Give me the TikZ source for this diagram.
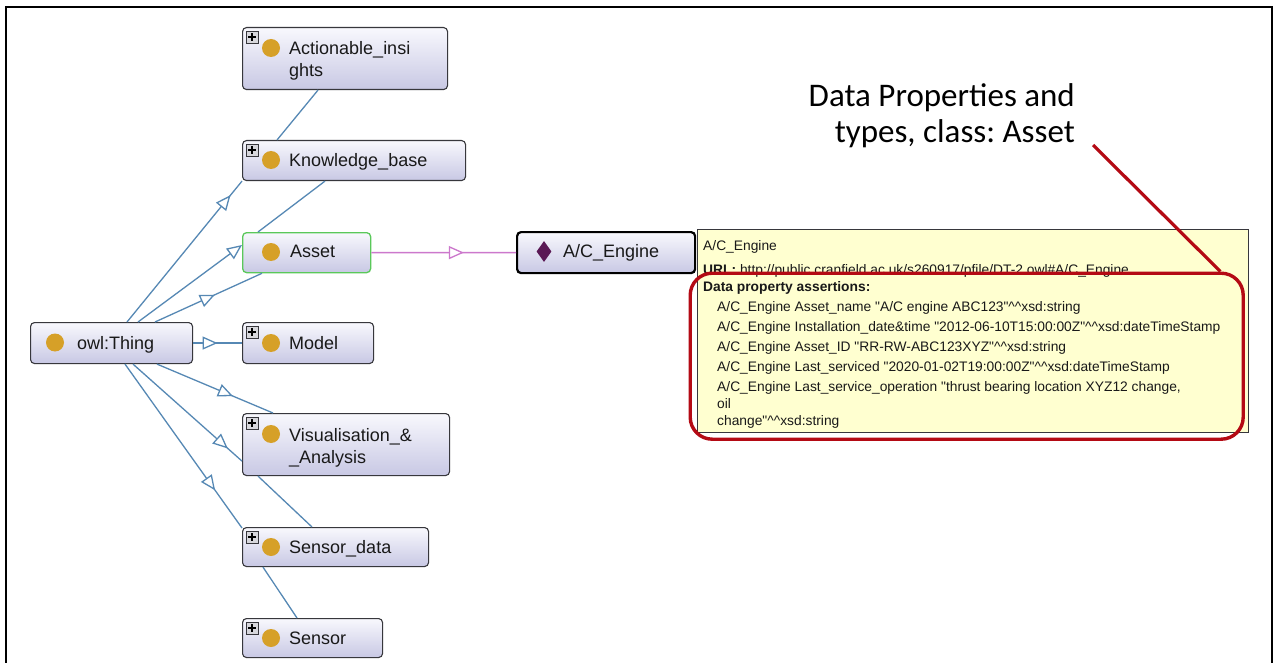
\documentclass[tikz,border=0pt]{standalone}
\usepackage{fontspec}
\setmainfont{Liberation Sans}
\newfontfamily\calib{Carlito}
\usetikzlibrary{arrows.meta,decorations.markings,calc,shapes.geometric}
\definecolor{edgeblue}{RGB}{86,136,180}
\definecolor{propline}{RGB}{204,120,204}
\definecolor{gold}{RGB}{214,160,40}
\definecolor{lavtop}{RGB}{248,248,253}
\definecolor{lavbot}{RGB}{200,200,228}
\definecolor{bordergrey}{RGB}{55,55,60}
\definecolor{assetgreen}{RGB}{90,200,90}
\definecolor{diam}{RGB}{90,25,85}
\definecolor{tipyellow}{RGB}{255,255,208}
\definecolor{hlred}{RGB}{180,10,20}
\definecolor{plusgrey}{RGB}{215,215,220}
\definecolor{textdark}{RGB}{25,25,25}
\newcommand\qq{\textquotedbl}
\newcommand\hh{\textasciicircum\textasciicircum}
\frenchspacing
\begin{document}
\begin{tikzpicture}[x=1pt,y=-1pt,
  cls/.style={draw=bordergrey, line width=1.1pt, rounded corners=4pt,
    top color=lavtop, bottom color=lavbot, inner sep=0pt, anchor=north west},
  lbl/.style={anchor=base west, inner sep=0pt, font=\fontsize{18}{22}\selectfont, text=textdark},
  tip/.style={anchor=base west, inner sep=0pt, font=\fontsize{13.8}{17}\selectfont, text=textdark},
  dot/.style={circle, fill=gold, minimum size=18pt, inner sep=0pt},
  plusbox/.style={draw=bordergrey, fill=plusgrey, minimum size=12pt, inner sep=0pt, line width=0.6pt,
    path picture={\draw[line width=1.3pt,black] ($(path picture bounding box.center)+(-3.8,0)$) -- ++(7.6,0);
      \draw[line width=1.3pt,black] ($(path picture bounding box.center)+(0,-3.8)$) -- ++(0,7.6);}},
  edge/.style={draw=edgeblue, color=edgeblue, line width=1.3pt},
  midarrow/.style={postaction={decorate}, decoration={markings,
    mark=at position #1 with {\arrow{Triangle[fill=white,length=15pt,width=13pt]}}}},
  redline/.style={draw=hlred, line width=3.2pt}
]
\useasboundingbox (0,0) rectangle (1274,663);
\fill[white] (0,0) rectangle (1274,663);
% frame
\draw[line width=2pt, black] (6,663) -- (6,7) -- (1272,7) -- (1272,663);

% class boxes
\node[cls, minimum width=205pt, minimum height=62pt] (ai) at (242,27) {};
\node[cls, minimum width=223pt, minimum height=40pt] (kb) at (242,140) {};
\node[cls, draw=assetgreen, line width=1.3pt, minimum width=128pt, minimum height=40pt] (asset) at (242,232) {};
\node[cls, minimum width=162pt, minimum height=41pt] (thing) at (30,322) {};
\node[cls, minimum width=131pt, minimum height=41pt] (model) at (242,322) {};
\node[cls, minimum width=207pt, minimum height=62pt] (vis) at (242,413) {};
\node[cls, minimum width=186pt, minimum height=39pt] (sd) at (242,527) {};
\node[cls, minimum width=140pt, minimum height=39pt] (sensor) at (242,618) {};
\node[cls, draw=black, line width=2.2pt, minimum width=178pt, minimum height=41pt] (ace) at (516,231) {};

% edges
\draw[edge, midarrow=0.9] ($(thing.north west)+(97,0)$) -- (kb.south west);
\draw[edge, -{Triangle[fill=white,length=15pt,width=13pt]}] ($(thing.north west)+(108,0)$) -- ($(asset.north west)+(0,13)$);
\draw[edge, midarrow=0.56] ($(thing.north west)+(125,0)$) -- ($(asset.south west)+(20,0)$);
\draw[edge] ($(kb.south west)+(83,0)$) -- ($(asset.north west)+(16,0)$);
\draw[edge] ($(ai.south west)+(76,0)$) -- ($(kb.north west)+(35,0)$);
\draw[edge, midarrow=0.5] (thing.east) -- (model.west);
\draw[edge, midarrow=0.655] ($(thing.south west)+(127,0)$) -- ($(vis.north west)+(31,0)$);
\draw[edge, midarrow=0.87] ($(thing.south west)+(103,0)$) -- ($(vis.south west)+(0,-15)$);
\draw[edge, midarrow=0.77] ($(thing.south west)+(95,0)$) -- ($(sd.north west)+(0,1)$);
\draw[edge] ($(vis.south west)+(16,0)$) -- ($(sd.north west)+(70,0)$);
\draw[edge] ($(sd.south west)+(21,0)$) -- ($(sensor.north west)+(55,0)$);
\draw[draw=propline, color=propline, line width=1.3pt, midarrow=0.64] (asset.east) -- (ace.west);

% icons and labels
\node[plusbox] (aiP) at ($(ai.north west)+(10,10)$) {};
\node[dot] (aiD) at ($(ai.north west)+(29,21)$) {};
\node[lbl] (aiL1) at ($(ai.north west)+(47,28)$) {Actionable\_insi};
\node[lbl] (aiL2) at ($(ai.north west)+(47,50)$) {ghts};

\node[plusbox] (kbP) at ($(kb.north west)+(10,10)$) {};
\node[dot] (kbD) at ($(kb.north west)+(29,20)$) {};
\node[lbl] (kbL) at ($(kb.north west)+(47,26.5)$) {Knowledge\_base};

\node[dot] (asD) at ($(asset.north west)+(29,20)$) {};
\node[lbl] (asL) at ($(asset.north west)+(48,26)$) {Asset};

\node[dot] (thD) at ($(thing.north west)+(25,20.5)$) {};
\node[lbl] (thL) at ($(thing.north west)+(47,27)$) {owl:Thing};

\node[plusbox] (moP) at ($(model.north west)+(10,10)$) {};
\node[dot] (moD) at ($(model.north west)+(29,21)$) {};
\node[lbl] (moL) at ($(model.north west)+(47,27)$) {Model};

\node[plusbox] (viP) at ($(vis.north west)+(10,10)$) {};
\node[dot] (viD) at ($(vis.north west)+(29,21)$) {};
\node[lbl] (viL1) at ($(vis.north west)+(47,28)$) {Visualisation\_\&};
\node[lbl] (viL2) at ($(vis.north west)+(47,50)$) {\_Analysis};

\node[plusbox] (sdP) at ($(sd.north west)+(10,10)$) {};
\node[dot] (sdD) at ($(sd.north west)+(29,20)$) {};
\node[lbl] (sdL) at ($(sd.north west)+(47,26)$) {Sensor\_data};

\node[plusbox] (seP) at ($(sensor.north west)+(10,10)$) {};
\node[dot] (seD) at ($(sensor.north west)+(29,20)$) {};
\node[lbl] (seL) at ($(sensor.north west)+(47,26)$) {Sensor};

\node[diamond, fill=diam, minimum width=15pt, minimum height=21pt, inner sep=0pt] (aceD) at ($(ace.north west)+(28,20.5)$) {};
\node[lbl] (aceL) at ($(ace.north west)+(47,27)$) {A/C\_Engine};

% tooltip
\node[draw=bordergrey, fill=tipyellow, line width=1.1pt, anchor=north west, inner sep=0pt,
  minimum width=551pt, minimum height=203pt] (tt) at (697,229) {};
\node[tip] (t1) at (703,251) {A/C\_Engine};
\node[tip] (t2) at (703,274) {\textbf{URL:} http://public.cranfield.ac.uk/s260917/pfile/DT-2.owl\#A/C\_Engine};
\node[tip] (t3) at (703,291) {\textbf{Data property assertions:}};
\node[tip] (t4) at (717,311) {A/C\_Engine Asset\_name \qq A/C engine ABC123\qq\hh xsd:string};
\node[tip] (t5) at (717,331) {A/C\_Engine Installation\_date\&time \qq 2012-06-10T15:00:00Z\qq\hh xsd:dateTimeStamp};
\node[tip] (t6) at (717,351) {A/C\_Engine Asset\_ID \qq RR-RW-ABC123XYZ\qq\hh xsd:string};
\node[tip] (t7) at (717,371) {A/C\_Engine Last\_serviced \qq 2020-01-02T19:00:00Z\qq\hh xsd:dateTimeStamp};
\node[tip] (t8) at (717,391) {A/C\_Engine Last\_service\_operation \qq thrust bearing location XYZ12 change,};
\node[tip] (t9) at (717,408) {oil};
\node[tip] (t10) at (717,425) {change\qq\hh xsd:string};

% highlight
\node[draw=hlred, line width=3.4pt, rounded corners=22pt, anchor=north west, inner sep=0pt,
  minimum width=553pt, minimum height=166pt] (hl) at (688.5,271.5) {};

% annotation
\node[anchor=base east, inner sep=0pt, font=\calib\fontsize{33}{36}\selectfont, text=black] (ann1) at (1075,107) {Data Properties and};
\node[anchor=base east, inner sep=0pt, font=\calib\fontsize{33}{36}\selectfont, text=black] (ann2) at (1075,143) {types, class: Asset};
\coordinate (rl) at (1093,145);
\draw[redline] (rl) -- ($(hl.north east)+(-24.5,0)$);
\end{tikzpicture}
\end{document}
